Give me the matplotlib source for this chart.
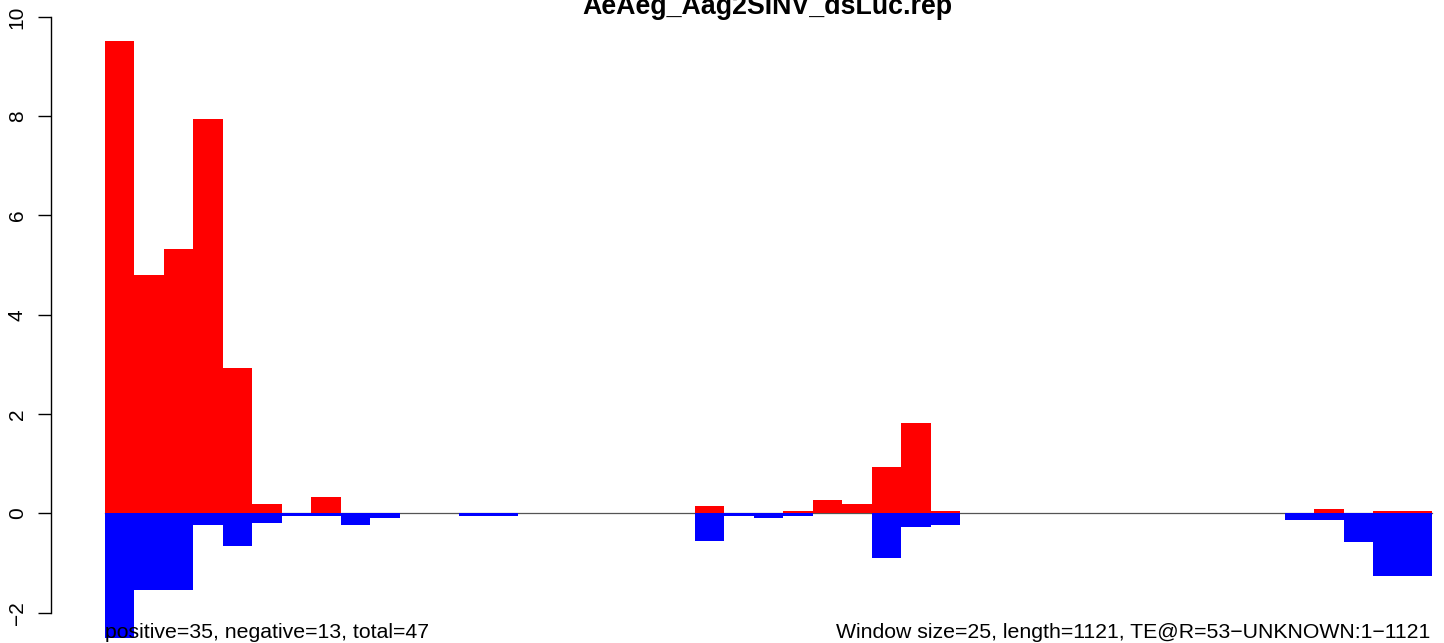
import matplotlib
matplotlib.use("Agg")
import matplotlib.pyplot as plt
import numpy as np

plt.rcParams['font.family'] = ['Liberation Sans', 'DejaVu Sans']

title = "AeAeg_Aag2SINV_dsLuc.rep"
left_note = "positive=35, negative=13, total=47"
right_note = "Window size=25, length=1121, TE@R=53\u2212UNKNOWN:1\u22121121"

# per-window values (window size 25, 45 windows)
pos = [9.52, 4.81, 5.32, 7.94, 2.93, 0.19, 0.0, 0.33, 0.0, 0.0,
       0.0, 0.0, 0.0, 0.0, 0.0, 0.0, 0.0, 0.0, 0.0, 0.0,
       0.15, 0.0, 0.0, 0.05, 0.27, 0.19, 0.94, 1.82, 0.05, 0.0,
       0.0, 0.0, 0.0, 0.0, 0.0, 0.0, 0.0, 0.0, 0.0, 0.0,
       0.0, 0.08, 0.0, 0.05, 0.05]
neg = [-2.50, -1.55, -1.55, -0.23, -0.66, -0.19, -0.06, -0.05, -0.23, -0.09,
       0.0, 0.0, -0.06, -0.06, 0.0, 0.0, 0.0, 0.0, 0.0, 0.0,
       -0.56, -0.06, -0.10, -0.06, 0.0, 0.0, -0.89, -0.28, -0.23, 0.0,
       0.0, 0.0, 0.0, 0.0, 0.0, 0.0, 0.0, 0.0, 0.0, 0.0,
       -0.13, -0.13, -0.57, -1.27, -1.27]
yticks = [-2, 0, 2, 4, 6, 8, 10]

W, H = 1444, 643
fig = plt.figure(figsize=(W / 100, H / 100), dpi=100)
ax = fig.add_axes([51 / W, 0, (W - 51) / W, 1])

n = len(pos)
x = np.arange(n)
ax.plot([0, n], [0, 0], color='#555555', lw=0.9, zorder=1)
ax.bar(x, pos, width=1, align='edge', color='#ff0000', lw=0, zorder=2)
ax.bar(x, neg, width=1, align='edge', color='#0000ff', lw=0, zorder=2)

px = (1432 - 105) / n
ax.set_xlim(-(105 - 51) / px, n + (W - 1432) / px)
ax.set_ylim(-2.61, 10.34)

for s in ['top', 'right', 'bottom']:
    ax.spines[s].set_visible(False)
ax.spines['left'].set_bounds(-2, 10)
ax.spines['left'].set_linewidth(1.0)
ax.set_xticks([])
ax.set_yticks(yticks)
ax.set_yticklabels([str(t).replace('-', '\u2212') for t in yticks],
                   rotation=90, va='center')
ax.tick_params(axis='y', length=9.5, width=1.0, pad=8, labelsize=15)

ax.text(0, -2.5, left_note, fontsize=15.3, ha='left', va='baseline', zorder=3)
ax.text(n - 0.05, -2.5, right_note, fontsize=15.3, ha='right', va='baseline', zorder=3)

fig.text(767 / W, 1 - 14 / H, title, fontsize=19.3, fontweight='bold',
         ha='center', va='baseline')

fig.savefig("out.png", dpi=100)
